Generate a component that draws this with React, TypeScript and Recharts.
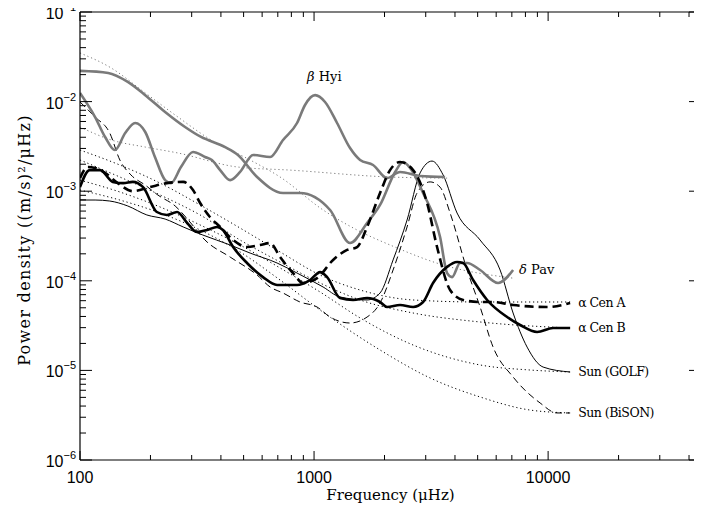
import React from 'react';
import { LineChart, Line, XAxis, YAxis, ReferenceDot } from 'recharts';

// ---- data: [frequency (μHz), power density ((m/s)^2/μHz)] ----
const betaHyi: [number, number][] = [
  [100, 1.25e-2], [116, 6.73e-3], [128, 4.03e-3], [141, 2.88e-3], [156, 4.46e-3], [172, 5.77e-3],
  [190, 4.58e-3], [209, 2.41e-3], [231, 1.33e-3], [245, 1.23e-3], [270, 1.86e-3], [304, 2.74e-3],
  [342, 2.41e-3], [366, 2.23e-3], [397, 1.72e-3], [438, 1.33e-3], [483, 1.64e-3], [549, 2.54e-3],
  [649, 2.41e-3], [737, 3.73e-3], [846, 5.77e-3], [915, 9.17e-3], [1010, 1.18e-2], [1114, 9.9e-3],
  [1254, 5.77e-3], [1425, 3.03e-3], [1573, 2.23e-3], [1787, 1.96e-3], [2051, 1.4e-3], [2331, 1.64e-3],
  [2838, 1.48e-3], [3630, 1.44e-3],
];
const deltaPav: [number, number][] = [
  [100, 2.2e-2], [132, 2.09e-2], [160, 1.66e-2], [190, 1.18e-2], [231, 7.66e-3], [281, 5.21e-3],
  [329, 4.03e-3], [417, 3.11e-3], [473, 2.54e-3], [571, 1.44e-3], [737, 9.55e-4], [871, 9.55e-4],
  [1171, 6.17e-4], [1425, 2.64e-4], [1685, 4.42e-4], [1914, 7.02e-4], [2220, 1.64e-3], [2401, 2.12e-3],
  [2572, 1.82e-3], [2923, 9.55e-4], [3455, 3.08e-4], [3702, 1.22e-4], [3888, 1.1e-4], [4206, 1.58e-4],
  [4507, 1.58e-4], [5123, 1.32e-4], [6114, 9.45e-5], [7086, 1.32e-4],
];
const alphaCenA: [number, number][] = [
  [100, 1.4e-3], [108, 1.86e-3], [116, 1.82e-3], [128, 1.6e-3], [145, 1.23e-3], [168, 1.0e-3],
  [199, 1.11e-3], [235, 1.23e-3], [276, 1.27e-3], [304, 1.03e-3], [326, 7.38e-4], [359, 5.15e-4],
  [397, 3.99e-4], [451, 2.85e-4], [517, 2.38e-4], [588, 2.51e-4], [649, 2.64e-4], [716, 1.84e-4],
  [813, 1.22e-4], [897, 9.45e-5], [1030, 1.07e-4], [1206, 1.71e-4], [1384, 2.21e-4], [1527, 2.38e-4],
  [1685, 3.99e-4], [1914, 9.55e-4], [2112, 1.72e-3], [2331, 2.12e-3], [2650, 1.72e-3], [3040, 7.38e-4],
  [3354, 2.38e-4], [3813, 7.89e-5], [4334, 6.11e-5], [5123, 5.8e-5], [5821, 5.8e-5], [7086, 5.37e-5],
  [9901, 5.1e-5], [12420, 5.65e-5],
];
const alphaCenB: [number, number][] = [
  [100, 1.11e-3], [110, 1.72e-3], [122, 1.72e-3], [138, 1.27e-3], [153, 1.23e-3], [168, 1.27e-3],
  [186, 1.11e-3], [213, 5.86e-4], [235, 5.43e-4], [260, 5.86e-4], [287, 4.42e-4], [316, 3.5e-4],
  [349, 3.69e-4], [385, 3.99e-4], [408, 3.69e-4], [451, 2.38e-4], [517, 1.58e-4], [605, 1.1e-4],
  [695, 8.98e-5], [846, 8.98e-5], [961, 1.02e-4], [1061, 1.25e-4], [1137, 1.1e-4], [1291, 6.43e-5],
  [1468, 6.11e-5], [1685, 6.43e-5], [1914, 5.8e-5], [2051, 5.1e-5], [2331, 5.37e-5], [2650, 5.1e-5],
  [2923, 5.8e-5], [3224, 9.45e-5], [3702, 1.43e-4], [4083, 1.62e-4], [4334, 1.58e-4], [4781, 1.02e-4],
  [5489, 6.11e-5], [6681, 3.94e-5], [7592, 3.21e-5], [8974, 2.68e-5], [10500, 2.97e-5], [12420, 2.97e-5],
];
const sunGolf: [number, number][] = [
  [100, 7.97e-4], [116, 7.97e-4], [134, 7.77e-4], [160, 6.84e-4], [193, 5.43e-4], [231, 4.89e-4],
  [276, 3.99e-4], [335, 3.24e-4], [438, 2.51e-4], [533, 2.04e-4], [695, 1.58e-4], [846, 1.22e-4],
  [1093, 8.53e-5], [1291, 6.6e-5], [1685, 6.11e-5], [1914, 7.31e-5], [2176, 1.71e-4], [2497, 4.77e-4],
  [2838, 1.6e-3], [3192, 2.17e-3], [3559, 1.52e-3], [4083, 5.71e-4], [5123, 2.85e-4], [6236, 1.32e-4],
  [7086, 4.37e-5], [8134, 1.82e-5], [9520, 1.09e-5], [12420, 9.6e-6],
];
const sunBison: [number, number][] = [
  [100, 9.9e-3], [116, 6.73e-3], [134, 4.46e-3], [148, 2.23e-3], [165, 1.52e-3], [190, 1.17e-3],
  [215, 9.07e-4], [255, 6.84e-4], [295, 4.53e-4], [342, 2.85e-4], [438, 1.84e-4], [571, 1.16e-4],
  [649, 8.53e-5], [737, 7.31e-5], [871, 5.8e-5], [1030, 5.1e-5], [1171, 3.94e-5], [1425, 3.38e-5],
  [1685, 3.94e-5], [1914, 5.65e-5], [2176, 1.32e-4], [2497, 3.99e-4], [2755, 9.55e-4], [3132, 1.27e-3],
  [3455, 1.11e-3], [3813, 5.71e-4], [4507, 1.32e-4], [5123, 5.1e-5], [5821, 1.82e-5], [7086, 8.44e-6],
  [9244, 4.33e-6], [10900, 3.35e-6], [12420, 3.35e-6],
];
// background fits (dotted)
const bgDeltaPav: [number, number][] = [
  [100, 3.49e-2], [136, 2.37e-2], [190, 1.25e-2], [262, 6.73e-3], [363, 3.73e-3], [533, 2.23e-3],
  [716, 1.44e-3], [1093, 6.17e-4], [1527, 3.69e-4], [2112, 2.51e-4], [3559, 1.5e-4], [7086, 1.07e-4],
];
const bgBetaHyi: [number, number][] = [
  [100, 5.21e-3], [136, 3.73e-3], [190, 3.11e-3], [262, 2.67e-3], [473, 1.86e-3], [790, 1.72e-3],
  [2112, 1.44e-3], [3702, 1.4e-3],
];
const bgCenA: [number, number][] = [
  [100, 2.88e-3], [148, 1.96e-3], [220, 1.23e-3], [326, 7.02e-4], [483, 3.88e-4], [716, 2.1e-4],
  [1061, 1.16e-4], [1573, 7.89e-5], [2650, 6.11e-5], [5123, 5.8e-5], [12420, 5.8e-5],
];
const bgCenB: [number, number][] = [
  [100, 2.23e-3], [148, 1.44e-3], [220, 9.07e-4], [326, 5.43e-4], [483, 2.85e-4], [716, 1.62e-4],
  [1061, 9.45e-5], [1573, 6.11e-5], [2650, 4.37e-5], [5123, 3.47e-5], [12420, 2.97e-5],
];
const bgGolf: [number, number][] = [
  [100, 1.33e-3], [148, 9.8e-4], [220, 6.66e-4], [326, 4.2e-4], [483, 2.51e-4], [716, 1.39e-4],
  [1061, 7.5e-5], [1573, 3.85e-5], [2650, 1.92e-5], [5123, 1.15e-5], [8379, 1.01e-5], [12420, 9.6e-6],
];
const bgBison: [number, number][] = [
  [100, 1.03e-3], [148, 7.97e-4], [220, 5.71e-4], [326, 3.69e-4], [483, 2.1e-4], [716, 1.02e-4],
  [1061, 4.72e-5], [1914, 1.69e-5], [3132, 8.23e-6], [5123, 5.05e-6], [8379, 3.61e-6], [12420, 3.35e-6],
];

// ---- ticks & labels ----
const X_TICKS = [100, 200, 300, 400, 500, 600, 700, 800, 900, 1000, 2000, 3000, 4000, 5000, 6000, 7000, 8000, 9000, 10000, 20000, 30000, 40000];
const X_LABELS = [100, 1000, 10000];
const Y_TICKS = [
  1e-6, 2e-6, 3e-6, 4e-6, 5e-6, 6e-6, 7e-6, 8e-6, 9e-6,
  1e-5, 2e-5, 3e-5, 4e-5, 5e-5, 6e-5, 7e-5, 8e-5, 9e-5,
  1e-4, 2e-4, 3e-4, 4e-4, 5e-4, 6e-4, 7e-4, 8e-4, 9e-4,
  1e-3, 2e-3, 3e-3, 4e-3, 5e-3, 6e-3, 7e-3, 8e-3, 9e-3,
  1e-2, 2e-2, 3e-2, 4e-2, 5e-2, 6e-2, 7e-2, 8e-2, 9e-2,
  1e-1,
];
const X_DOMAIN: [number, number] = [100, 45000];
const Y_DOMAIN: [number, number] = [1e-6, 1e-1];
const X_TITLE = 'Frequency (\u03bcHz)';
const Y_TITLE = 'Power density ((m/s)\u00b2/\u03bcHz)';

const SERIES_LABELS = {
  betaHyi: ['\u03b2', ' Hyi'],
  deltaPav: ['\u03b4', ' Pav'],
  cenA: '\u03b1 Cen A',
  cenB: '\u03b1 Cen B',
  golf: 'Sun (GOLF)',
  bison: 'Sun (BiSON)',
};

const toRows = (arr: [number, number][]) => arr.map(([f, p]) => ({ f, p }));

const SERIF = '"DejaVu Serif", serif';
const NUMFONT = '"Liberation Sans", Arial, sans-serif';
const GRAY = '#7a7a7a';

const isDecade = (v: number) => Math.abs(Math.log10(v) - Math.round(Math.log10(v))) < 1e-6;

const BottomTick = (props: any) => {
  const { x, y, payload } = props;
  const v = payload.value;
  const major = isDecade(v);
  return (
    <g>
      <line x1={x} x2={x} y1={y} y2={y - (major ? 9 : 5)} stroke="#000" strokeWidth={1} />
      {major && X_LABELS.includes(v) && (
        <text x={x} y={y + 23} textAnchor="middle" fontFamily={NUMFONT} fontSize={16} fill="#000">
          {String(v)}
        </text>
      )}
    </g>
  );
};
const TopTick = (props: any) => {
  const { x, y, payload } = props;
  const major = isDecade(payload.value);
  return <line x1={x} x2={x} y1={y} y2={y + (major ? 9 : 5)} stroke="#000" strokeWidth={1} />;
};
const LeftTick = (props: any) => {
  const { x, y, payload } = props;
  const v = payload.value;
  const major = isDecade(v);
  const e = Math.round(Math.log10(v));
  return (
    <g>
      <line x1={x} x2={x + (major ? 12 : 6)} y1={y} y2={y} stroke="#000" strokeWidth={1} />
      {major && (
        <text x={x - 4} y={y + 7} textAnchor="end" fontFamily={NUMFONT} fontSize={16} fill="#000">
          10<tspan dy={-8} fontSize={11}>{'\u2212' + String(-e)}</tspan>
        </text>
      )}
    </g>
  );
};
const RightTick = (props: any) => {
  const { x, y, payload } = props;
  const major = isDecade(payload.value);
  return <line x1={x} x2={x - (major ? 12 : 6)} y1={y} y2={y} stroke="#000" strokeWidth={1} />;
};

const labelShape = (text: any, dx: number, dy: number) => (props: any) => (
  <text x={props.cx + dx} y={props.cy + dy} fontFamily={SERIF} fontSize={12.5} letterSpacing={-0.5} fill="#000">
    {text}
  </text>
);
const greekShape = (parts: string[], dx: number, dy: number) => (props: any) => (
  <text x={props.cx + dx} y={props.cy + dy} fontFamily={SERIF} fontSize={13} fill="#000">
    <tspan fontStyle="italic">{parts[0]}</tspan>
    {parts[1]}
  </text>
);

export default function App() {
  const dotted = '1.2 2.8';
  return (
    <div style={{ marginTop: -8 }}>
      <LineChart width={694} height={508} margin={{ top: 11, right: 0, bottom: 0, left: 0 }}>
        <XAxis
          xAxisId="b"
          dataKey="f"
          type="number"
          scale="log"
          domain={X_DOMAIN}
          allowDataOverflow
          ticks={X_TICKS}
          interval={0}
          tickSize={0}
          tickMargin={0}
          tick={<BottomTick />}
          height={48}
          axisLine={{ stroke: '#000', strokeWidth: 1.2 }}
          label={{
            content: (p: any) => (
              <text
                x={p.viewBox.x + p.viewBox.width / 2}
                y={p.viewBox.y + 40}
                textAnchor="middle"
                fontFamily={SERIF}
                fontSize={15}
                fill="#000"
              >
                {X_TITLE}
              </text>
            ),
          }}
        />
        <XAxis
          xAxisId="t"
          dataKey="f"
          type="number"
          scale="log"
          orientation="top"
          domain={X_DOMAIN}
          allowDataOverflow
          ticks={X_TICKS}
          interval={0}
          tickSize={0}
          tickMargin={0}
          tick={<TopTick />}
          height={1}
          axisLine={{ stroke: '#000', strokeWidth: 1.2 }}
        />
        <YAxis
          yAxisId="l"
          type="number"
          scale="log"
          domain={Y_DOMAIN}
          allowDataOverflow
          ticks={Y_TICKS}
          interval={0}
          tickSize={0}
          tickMargin={0}
          tick={<LeftTick />}
          width={72}
          axisLine={{ stroke: '#000', strokeWidth: 1.2 }}
          label={{
            content: (p: any) => {
              const cx = p.viewBox.x + 17;
              const cy = p.viewBox.y + p.viewBox.height / 2 + 4;
              return (
                <text
                  x={cx}
                  y={cy}
                  transform={`rotate(-90 ${cx} ${cy})`}
                  textAnchor="middle"
                  dominantBaseline="middle"
                  fontFamily={SERIF}
                  fontSize={16}
                  letterSpacing={1.3}
                  fill="#000"
                >
                  {Y_TITLE}
                </text>
              );
            },
          }}
        />
        <YAxis
          yAxisId="r"
          orientation="right"
          type="number"
          scale="log"
          domain={Y_DOMAIN}
          allowDataOverflow
          ticks={Y_TICKS}
          interval={0}
          tickSize={0}
          tickMargin={0}
          tick={<RightTick />}
          width={1}
          axisLine={{ stroke: '#000', strokeWidth: 1.2 }}
        />

        {/* background fits */}
        <Line xAxisId="b" yAxisId="l" data={toRows(bgDeltaPav)} dataKey="p" type="monotone" stroke={GRAY} strokeWidth={1} strokeDasharray={dotted} dot={false} isAnimationActive={false} />
        <Line xAxisId="b" yAxisId="l" data={toRows(bgBetaHyi)} dataKey="p" type="monotone" stroke={GRAY} strokeWidth={1} strokeDasharray={dotted} dot={false} isAnimationActive={false} />
        <Line xAxisId="b" yAxisId="l" data={toRows(bgCenA)} dataKey="p" type="monotone" stroke="#000" strokeWidth={1} strokeDasharray={dotted} dot={false} isAnimationActive={false} />
        <Line xAxisId="b" yAxisId="l" data={toRows(bgCenB)} dataKey="p" type="monotone" stroke="#000" strokeWidth={1} strokeDasharray={dotted} dot={false} isAnimationActive={false} />
        <Line xAxisId="b" yAxisId="l" data={toRows(bgGolf)} dataKey="p" type="monotone" stroke="#000" strokeWidth={1} strokeDasharray={dotted} dot={false} isAnimationActive={false} />
        <Line xAxisId="b" yAxisId="l" data={toRows(bgBison)} dataKey="p" type="monotone" stroke="#000" strokeWidth={1} strokeDasharray={dotted} dot={false} isAnimationActive={false} />

        {/* spectra */}
        <Line xAxisId="b" yAxisId="l" data={toRows(sunGolf)} dataKey="p" type="monotone" stroke="#000" strokeWidth={1} dot={false} isAnimationActive={false} />
        <Line xAxisId="b" yAxisId="l" data={toRows(sunBison)} dataKey="p" type="monotone" stroke="#000" strokeWidth={1} strokeDasharray="7 4" dot={false} isAnimationActive={false} />
        <Line xAxisId="b" yAxisId="l" data={toRows(betaHyi)} dataKey="p" type="monotone" stroke={GRAY} strokeWidth={2.6} dot={false} isAnimationActive={false} />
        <Line xAxisId="b" yAxisId="l" data={toRows(deltaPav)} dataKey="p" type="monotone" stroke={GRAY} strokeWidth={2.6} dot={false} isAnimationActive={false} />
        <Line xAxisId="b" yAxisId="l" data={toRows(alphaCenB)} dataKey="p" type="monotone" stroke="#000" strokeWidth={2.6} dot={false} isAnimationActive={false} />
        <Line xAxisId="b" yAxisId="l" data={toRows(alphaCenA)} dataKey="p" type="monotone" stroke="#000" strokeWidth={2.6} strokeDasharray="9 5" dot={false} isAnimationActive={false} />

        {/* series labels */}
        <ReferenceDot xAxisId="b" yAxisId="l" x={1010} y={1.18e-2} r={0} ifOverflow="visible" shape={greekShape(SERIES_LABELS.betaHyi, -8, -14)} />
        <ReferenceDot xAxisId="b" yAxisId="l" x={7086} y={1.32e-4} r={0} ifOverflow="visible" shape={greekShape(SERIES_LABELS.deltaPav, 6, 4)} />
        <ReferenceDot xAxisId="b" yAxisId="l" x={12420} y={5.65e-5} r={0} ifOverflow="visible" shape={labelShape(SERIES_LABELS.cenA, 8, 4)} />
        <ReferenceDot xAxisId="b" yAxisId="l" x={12420} y={2.97e-5} r={0} ifOverflow="visible" shape={labelShape(SERIES_LABELS.cenB, 8, 4)} />
        <ReferenceDot xAxisId="b" yAxisId="l" x={12420} y={9.6e-6} r={0} ifOverflow="visible" shape={labelShape(SERIES_LABELS.golf, 8, 4)} />
        <ReferenceDot xAxisId="b" yAxisId="l" x={12420} y={3.35e-6} r={0} ifOverflow="visible" shape={labelShape(SERIES_LABELS.bison, 8, 4)} />
      </LineChart>
    </div>
  );
}
